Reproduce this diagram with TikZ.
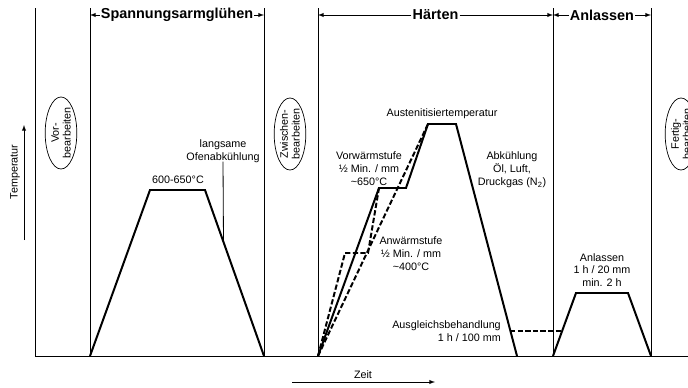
\documentclass[tikz,border=0pt]{standalone}
\usepackage{fontspec}
\setmainfont{Liberation Sans}
\usetikzlibrary{positioning,shapes.geometric}

\tikzset{
  frame/.style={line width=0.7pt},
  curve/.style={line width=1.7pt, line join=miter},
  curvedash/.style={curve, dash pattern=on 4.5pt off 2pt},
  lbl/.style={align=center, inner sep=0pt, font=\fontsize{9.2}{11}\selectfont},
  phase/.style={fill=white, inner sep=1pt, font=\fontsize{12.3}{14}\selectfont\bfseries},
  stage/.style={ellipse, draw, line width=0.6pt, rotate=90, minimum width=2.15cm,
    minimum height=0.95cm, inner sep=0pt, align=center, font=\fontsize{9.2}{10}\selectfont}
}

\begin{document}
\begin{tikzpicture}[x=0.03cm,y=-0.03cm,>=latex]
  \clip (0,0) rectangle (688,388);
  \useasboundingbox (0,0) rectangle (688,388);
  % axes and phase borders
  \coordinate (orig) at (35,356);
  \coordinate (tend) at (688,356);
  \draw[frame] (35,8) -- (orig) -- (tend);
  \foreach \x in {90,264,318,553,651}
    \draw[frame] (\x,8) -- (\x,356);
  % phase headings
  \foreach \a/\b/\name/\txt in {90/264/spa/Spannungsarmglühen,
      318/553/haert/Härten, 553/651/anl/Anlassen} {
    \node[phase] (\name) at ({(\a+\b)/2},15) {\txt};
    \draw[frame,->] (\name.west) -- (\a,15);
    \draw[frame,->] (\name.east) -- (\b,15);
  }
  % axis labels
  \coordinate (tlow) at (24,240);
  \coordinate (thigh) at (24,125);
  \draw[frame,->] (tlow) -- (thigh);
  \node[lbl, rotate=90] (temp) at (15,172) {Temperatur};
  \coordinate (zlow) at (292,382);
  \coordinate (zhigh) at (435,382);
  \draw[frame,->] (zlow) -- (zhigh);
  \node[lbl] (zeit) at (363,375) {Zeit};
  % machining steps
  \node[stage] (vor) at (61,133) {Vor-\\bearbeiten};
  \node[stage] (zw) at (290,134) {Zwischen-\\bearbeiten};
  \node[stage] (fert) at (681,134) {Fertig-\\bearbeiten};
  % Spannungsarmgluehen
  \coordinate (s1) at (90,356);
  \coordinate (s2) at (150,190);
  \coordinate (s3) at (205,190);
  \coordinate (s4) at (264,356);
  \draw[curve] (s1) -- (s2) -- (s3) -- (s4);
  \node[lbl] (spatemp) at (178,180) {600-650°C};
  \node[lbl] (ofen) at (223,151) {langsame\\Ofenabkühlung};
  \coordinate (ofenpt) at (223.5,242);
  \draw[frame] (ofen.south) ++(0,-1) -- (ofenpt);
  % Haerten
  \coordinate (h0) at (318,356);
  \coordinate (hv1) at (379,188);
  \coordinate (hv2) at (406,188);
  \coordinate (ha1) at (428,124);
  \coordinate (ha2) at (456,124);
  \coordinate (hend) at (517,356);
  \coordinate (hw1) at (345,253);
  \coordinate (hw2) at (368,253);
  \draw[curve] (h0) -- (hv1) -- (hv2) -- (ha1) -- (ha2) -- (hend);
  \draw[curvedash] (h0) -- (hw1) -- (hw2) -- (hv1);
  \draw[curvedash] (h0) -- (ha1);
  \node[lbl] (aust) at (442,114) {Austenitisiertemperatur};
  \node[lbl] (vorw) at (369,169) {Vorwärmstufe\\½ Min. / mm\\\textasciitilde650°C};
  \node[lbl] (anw) at (411,254) {Anwärmstufe\\½ Min. / mm\\\textasciitilde400°C};
  \node[lbl] (abk) at (512,170) {Abkühlung\\Öl, Luft,\\Druckgas (N\textsubscript{2})};
  % Ausgleich and Anlassen
  \coordinate (a1) at (553,356);
  \coordinate (a2) at (576,293);
  \coordinate (a3) at (628,293);
  \coordinate (a4) at (651,356);
  \draw[curve] (a1) -- (a2) -- (a3) -- (a4);
  \coordinate (aus1) at (510,331);
  \coordinate (aus2) at (562,331);
  \draw[curvedash] (aus1) -- (aus2);
  \node[lbl, align=right, anchor=east] (ausgl) at (501,331) {Ausgleichsbehandlung\\1 h / 100 mm};
  \node[lbl] (anltxt) at (602,270) {Anlassen\\1 h / 20 mm\\min. 2 h};
\end{tikzpicture}
\end{document}
